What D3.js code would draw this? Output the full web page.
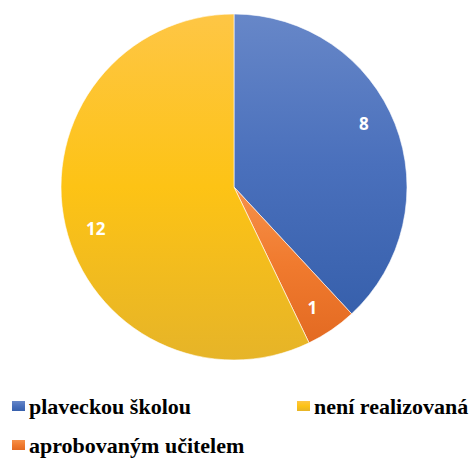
<!DOCTYPE html>
<html><head><meta charset="utf-8">
<script src="https://cdn.jsdelivr.net/npm/d3@7"></script>
<style>body{margin:0;background:#fff}svg{display:block}
.lg{font-family:'Liberation Serif','DejaVu Serif',serif;font-weight:bold;font-size:22px;fill:#000}
.num{font-family:'Open Sans',sans-serif;font-weight:bold;font-size:17px;fill:#fff}</style>
</head><body>
<script>
const categories = ["plaveckou školou", "aprobovaným učitelem", "není realizovaná"];
const values = [8, 1, 12];
const colorsTop = ["#6787C8", "#F6914A", "#FEC645"];
const colorsMid = ["#4A70BC", "#F07A2E", "#FDC315"];
const colorsBot = ["#3760AC", "#E36A22", "#E6B428"];

const W = 474, H = 458, cx = 234, cy = 187, r = 173;
const svg = d3.select("body").append("svg").attr("width", W).attr("height", H);
const defs = svg.append("defs");
categories.forEach((c, i) => {
  const g = defs.append("linearGradient").attr("id", "g" + i).attr("x1", 0).attr("y1", 0).attr("x2", 0).attr("y2", 1);
  g.append("stop").attr("offset", "0%").attr("stop-color", colorsTop[i]);
  g.append("stop").attr("offset", "50%").attr("stop-color", colorsMid[i]);
  g.append("stop").attr("offset", "100%").attr("stop-color", colorsBot[i]);
});

const pie = d3.pie().sort(null).value(d => d)(values);
const arc = d3.arc().innerRadius(0).outerRadius(r);
const gp = svg.append("g").attr("transform", `translate(${cx},${cy})`);
gp.selectAll("path").data(pie).join("path")
  .attr("d", arc).attr("fill", (d, i) => `url(#g${i})`)
  .attr("stroke", "#fff").attr("stroke-width", 0.6);

// label placement tweak (degrees) to mimic the original label layout
const labelShift = [-4.5, 1.4, -4];
gp.selectAll("text").data(pie).join("text").attr("class", "num")
  .attr("transform", (d, i) => {
    const a = (d.startAngle + d.endAngle) / 2 + labelShift[i] * Math.PI / 180;
    const rr = r * 0.835;
    return `translate(${rr * Math.sin(a)},${-rr * Math.cos(a)})`;
  })
  .attr("text-anchor", "middle").attr("dy", "0.36em")
  .text(d => d.data);

const legendPos = [[12, 414], [12, 453], [297, 414]];
const lg = svg.append("g");
categories.forEach((c, i) => {
  const [x, y] = legendPos[i];
  lg.append("rect").attr("x", x).attr("y", y - 13).attr("width", 13).attr("height", 10).attr("fill", `url(#g${i})`);
  lg.append("text").attr("class", "lg").attr("x", x + 17).attr("y", y).text(c);
});
</script>
</body></html>
